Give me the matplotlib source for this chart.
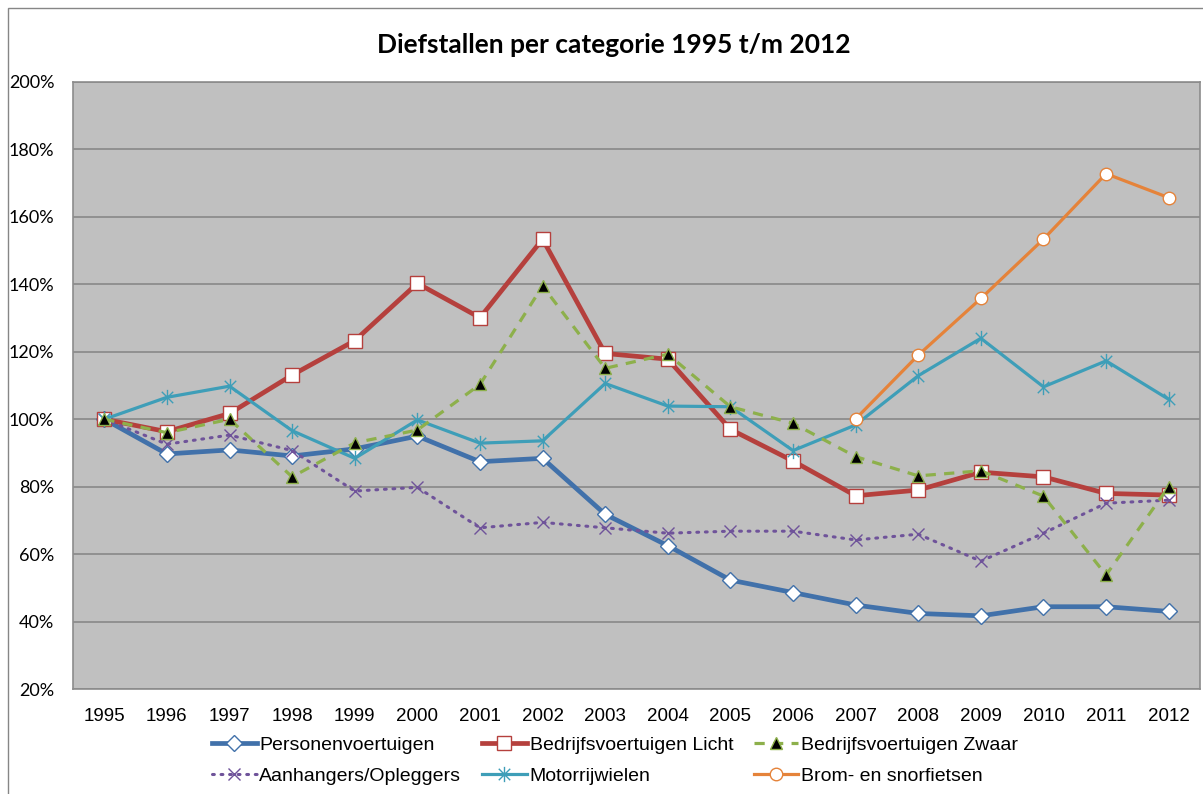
import matplotlib
matplotlib.use("Agg")
import matplotlib.pyplot as plt
from matplotlib.path import Path
from matplotlib.patches import Rectangle
from matplotlib.ticker import FuncFormatter

years = [str(y) for y in range(1995, 2013)]

personen = [100, 89.7, 90.9, 89.1, 91.2, 95.0, 87.4, 88.4, 71.8, 62.5,
            52.3, 48.6, 44.9, 42.4, 41.7, 44.4, 44.4, 43.0]
licht = [100, 96.3, 101.7, 113.1, 123.3, 140.3, 130.1, 153.4, 119.5, 117.8,
         97.0, 87.6, 77.3, 79.0, 84.3, 82.9, 78.0, 77.5]
zwaar = [100, 96.0, 100.0, 82.9, 93.0, 96.8, 110.3, 139.5, 115.1, 119.3,
         103.7, 98.8, 88.9, 83.2, 84.7, 77.2, 53.8, 80.0]
aanhangers = [100, 92.6, 95.3, 90.7, 78.7, 79.8, 67.8, 69.4, 67.8, 66.2,
              66.8, 66.8, 64.2, 65.9, 57.9, 66.2, 75.1, 76.0]
motor = [100, 106.5, 109.8, 96.6, 88.4, 99.8, 92.9, 93.6, 110.6, 103.9,
         103.7, 90.7, 98.3, 112.9, 124.0, 109.6, 117.3, 105.9]
brom_years = years[12:]
brom = [100.1, 119.0, 135.8, 153.4, 172.8, 165.7]

labels = ["Personenvoertuigen", "Bedrijfsvoertuigen Licht", "Bedrijfsvoertuigen Zwaar",
          "Aanhangers/Opleggers", "Motorrijwielen", "Brom- en snorfietsen"]
title = "Diefstallen per categorie 1995 t/m 2012"

W, H = 1203, 794
fig = plt.figure(figsize=(W / 100, H / 100), dpi=100)
fig.patch.set_facecolor("white")

# outer chart border (left/top visible)
fig.patches.append(Rectangle((8 / W, -0.05), 1.2, 1 - 8 / H + 0.05, transform=fig.transFigure,
                             fill=False, edgecolor="#868686", linewidth=1.0))

ax = fig.add_axes([73 / W, 1 - 689 / H, (1200 - 73) / W, (689 - 82) / H])
ax.set_facecolor("#C0C0C0")

x = list(range(len(years)))
xb = [years.index(y) for y in brom_years]

asterisk = Path([(0, -1), (0, 1), (-0.75, -0.75), (0.75, 0.75), (-0.75, 0.75), (0.75, -0.75)],
                [Path.MOVETO, Path.LINETO, Path.MOVETO, Path.LINETO, Path.MOVETO, Path.LINETO])

c_blue = "#4171AA"
c_red = "#B5403D"
c_green = "#8DB04B"
c_purple = "#6F539A"
c_teal = "#3E9EB8"
c_orange = "#E5833A"

h = []
h += ax.plot(x, personen, color=c_blue, lw=3.4, marker="D", ms=8.5, mfc="white", mec=c_blue, mew=1.0,
             label=labels[0], zorder=3)
h += ax.plot(x, licht, color=c_red, lw=3.4, marker="s", ms=10.5, mfc="white", mec=c_red, mew=1.0,
             label=labels[1], zorder=3)
h += ax.plot(x, zwaar, color=c_green, lw=2.3, ls=(0, (3.2, 2.6)), marker="^", ms=8.5, mfc="black",
             mec=c_green, mew=1.0, label=labels[2], zorder=4)
h += ax.plot(x, aanhangers, color=c_purple, lw=2.2, ls=(0, (0.6, 2.2)), dash_capstyle="round",
             marker="x", ms=8, mec=c_purple, mew=1.0, label=labels[3], zorder=3)
h += ax.plot(x, motor, color=c_teal, lw=2.3, marker=asterisk, ms=11, mec=c_teal, mew=1.0,
             label=labels[4], zorder=3)
h += ax.plot(xb, brom, color=c_orange, lw=2.3, marker="o", ms=9, mfc="white", mec=c_orange, mew=1.0,
             label=labels[5], zorder=3)

ax.set_xlim(-0.5, len(years) - 0.5)
ax.set_ylim(20, 200)
ax.set_yticks(range(20, 201, 20))
ax.yaxis.set_major_formatter(FuncFormatter(lambda v, p: f"{int(v)}%"))
ax.set_xticks(x)
ax.set_xticklabels(years)
ax.grid(axis="y", color="#8C8C8C", lw=1.3)
ax.set_axisbelow(True)
for s in ax.spines.values():
    s.set_color("#8C8C8C")
    s.set_linewidth(1.2)
ax.tick_params(axis="both", length=0)
ax.tick_params(axis="y", pad=13.5)
ax.tick_params(axis="x", pad=13.5)
for t in ax.get_yticklabels():
    t.set_fontfamily("Lato")
    t.set_fontsize(13)
for t in ax.get_xticklabels():
    t.set_fontfamily("Liberation Sans")
    t.set_fontsize(13.5)

fig.text(614 / W, 1 - 45 / H, title, ha="center", va="center", fontsize=19,
         fontweight="bold", family="Lato")

order = [0, 3, 1, 4, 2, 5]
leg = fig.legend([h[i] for i in order], [labels[i] for i in order],
                 loc="upper center", bbox_to_anchor=(615 / W, 1 - 736 / H), ncol=3,
                 frameon=False, prop={"family": "Liberation Sans", "size": 14},
                 handlelength=2.3, handletextpad=0.15, columnspacing=1.05, labelspacing=0.72,
                 borderaxespad=0, borderpad=0)

fig.savefig("out.png", dpi=100, facecolor="white")
